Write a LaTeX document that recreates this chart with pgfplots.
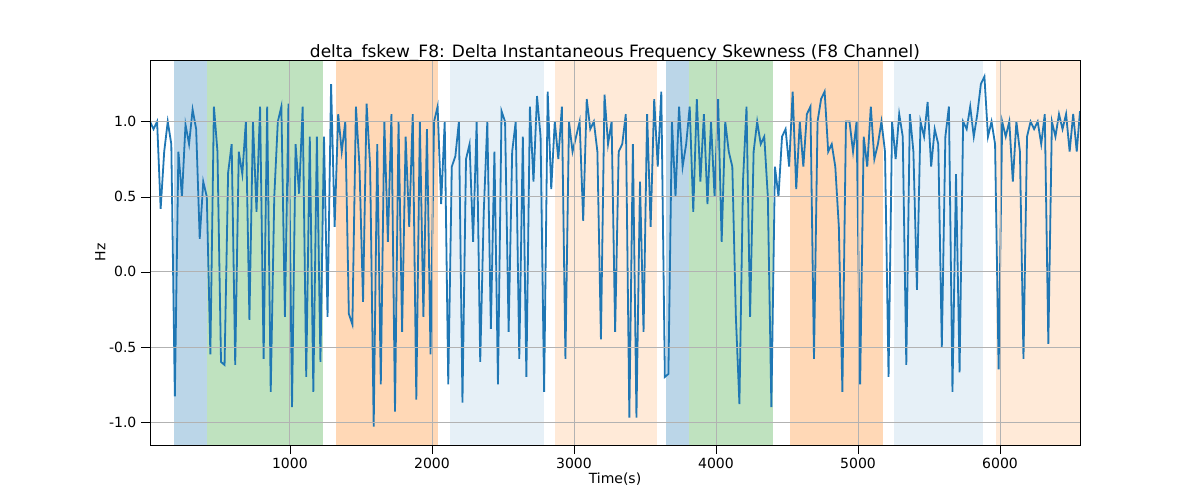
\documentclass[border=0pt]{standalone}
\usepackage{pgfplots}
\pgfplotsset{compat=1.18}
\usepackage{fontspec}
\setmainfont{DejaVu Sans}
\definecolor{tb}{HTML}{1F77B4}
\definecolor{tg}{HTML}{2CA02C}
\definecolor{to}{HTML}{FF7F0E}
\newcommand{\reg}[3]{\addplot[fill=#1,fill opacity=#2,draw=none,forget plot] coordinates {#3};}
\begin{document}
\fontsize{7pt}{8pt}\selectfont
\begin{tikzpicture}
\begin{axis}[at={(0,0)},anchor=south west,scale only axis,width=465pt,height=192.5pt,
xmin=15,xmax=6563,ymin=-1.153,ymax=1.41,
xtick={1000,2000,3000,4000,5000,6000},ytick={-1,-0.5,0,0.5,1},
xticklabel style={/pgf/number format/.cd,1000 sep={}},
yticklabel style={/pgf/number format/.cd,fixed,fixed zerofill,precision=1},
/pgf/number format/assume math mode=true,
grid=major,grid style={gray!60,line width=0.4pt},axis on top,
tick style={black},tick align=outside,xtick pos=left,ytick pos=left,
xlabel={Time(s)},ylabel={Hz},
title={delta\_fskew\_F8: Delta Instantaneous Frequency Skewness (F8 Channel)},
title style={font=\fontsize{8.5pt}{10pt}\selectfont,yshift=-9.5pt},
xlabel style={yshift=3pt},ylabel style={yshift=-3pt}]
\reg{tb}{0.3}{(183,-2)(183,2)(415,2)(415,-2)}
\reg{tg}{0.3}{(415,-2)(415,2)(1232,2)(1232,-2)}
\reg{to}{0.3}{(1324,-2)(1324,2)(2042,2)(2042,-2)}
\reg{tb}{0.11}{(2127,-2)(2127,2)(2789,2)(2789,-2)}
\reg{to}{0.16}{(2866,-2)(2866,2)(3585,2)(3585,-2)}
\reg{tb}{0.3}{(3648,-2)(3648,2)(3810,2)(3810,-2)}
\reg{tg}{0.3}{(3810,-2)(3810,2)(4401,2)(4401,-2)}
\reg{to}{0.3}{(4521,-2)(4521,2)(5176,2)(5176,-2)}
\reg{tb}{0.11}{(5254,-2)(5254,2)(5880,2)(5880,-2)}
\reg{to}{0.16}{(5972,-2)(5972,2)(6563,2)(6563,-2)}
\addplot[tb,line width=0.9pt] coordinates {
(15,1.0)(40,0.95)(65,1.0)(90,0.42)(115,0.8)(140,1.0)(165,0.85)(190,-0.83)(215,0.8)(240,0.5)(265,0.98)(290,0.85)(315,1.08)(340,0.95)(365,0.22)(390,0.6)(415,0.5)(440,-0.55)(465,1.1)(490,0.8)(515,-0.6)(540,-0.62)(565,0.66)(590,0.85)(615,-0.62)(640,0.8)(665,0.65)(690,1.0)(715,-0.32)(740,1.0)(765,0.4)(790,1.1)(815,-0.58)(840,1.1)(865,-0.8)(890,0.5)(915,1.0)(940,1.1)(965,-0.3)(990,1.12)
(1015,-0.9)(1040,0.85)(1065,0.52)(1090,1.1)(1115,-0.7)(1140,0.9)(1165,-0.8)(1190,0.9)(1215,-0.6)(1240,0.9)(1265,-0.3)(1290,1.25)(1315,0.3)(1340,1.05)(1365,0.8)(1390,1.0)(1415,-0.28)(1440,-0.35)(1465,1.1)(1490,0.7)(1515,-0.2)(1540,1.12)(1565,0.7)(1590,-1.03)(1615,0.85)(1640,-0.75)(1665,1.0)(1690,0.2)(1715,1.05)(1740,-0.93)(1765,1.0)(1790,-0.4)(1815,0.9)(1840,0.3)(1865,1.05)(1890,-0.85)(1915,1.0)(1940,-0.3)(1965,0.95)(1990,-0.55)
(2015,1.0)(2040,1.1)(2065,0.45)(2090,1.0)(2115,-0.75)(2140,0.7)(2165,0.77)(2190,1.0)(2215,-0.87)(2240,0.75)(2265,0.85)(2290,0.2)(2315,1.0)(2340,-0.6)(2365,0.4)(2390,1.0)(2415,-0.38)(2440,0.8)(2465,-0.75)(2490,1.07)(2515,1.0)(2540,-0.4)(2565,0.8)(2590,1.0)(2615,-0.58)(2640,0.9)(2665,-0.7)(2690,1.1)(2715,0.6)(2740,1.17)(2765,0.9)(2790,-0.8)(2815,1.2)(2840,0.55)(2865,1.0)(2890,0.75)(2915,1.1)(2940,-0.58)(2965,1.0)(2990,0.8)
(3015,0.9)(3040,1.0)(3065,0.34)(3090,1.15)(3115,0.95)(3140,1.0)(3165,0.8)(3190,-0.45)(3215,1.18)(3240,0.85)(3265,1.0)(3290,-0.4)(3315,0.8)(3340,0.85)(3365,1.05)(3390,-0.97)(3415,0.85)(3440,-0.97)(3465,0.6)(3490,-0.4)(3515,1.05)(3540,0.3)(3565,1.15)(3590,0.7)(3615,1.2)(3640,-0.7)(3665,-0.68)(3690,1.0)(3715,0.5)(3740,1.1)(3765,0.7)(3790,0.85)(3815,1.1)(3840,0.4)(3865,1.15)(3890,0.6)(3915,1.05)(3940,0.45)(3965,1.0)(3990,0.5)
(4015,1.15)(4040,0.2)(4065,1.0)(4090,0.8)(4115,0.7)(4140,-0.3)(4165,-0.88)(4190,0.6)(4215,1.1)(4240,-0.3)(4265,0.8)(4290,1.0)(4315,0.85)(4340,0.9)(4365,0.5)(4390,-0.9)(4415,0.7)(4440,0.5)(4465,0.9)(4490,0.95)(4515,0.7)(4540,1.2)(4565,0.55)(4590,1.0)(4615,0.7)(4640,1.05)(4665,1.1)(4690,-0.58)(4715,1.0)(4740,1.15)(4765,1.2)(4790,0.8)(4815,0.85)(4840,0.7)(4865,0.3)(4890,-0.8)(4915,1.0)(4940,1.0)(4965,0.8)(4990,1.0)
(5015,-0.75)(5040,0.9)(5065,0.7)(5090,1.1)(5115,0.75)(5140,0.85)(5165,1.0)(5190,0.8)(5215,-0.7)(5240,1.0)(5265,0.75)(5290,1.05)(5315,0.9)(5340,-0.62)(5365,1.05)(5390,0.8)(5415,-0.12)(5440,1.0)(5465,0.9)(5490,1.13)(5515,0.7)(5540,0.95)(5565,0.85)(5590,-0.5)(5615,0.9)(5640,1.1)(5665,-0.8)(5690,0.65)(5715,-0.67)(5740,1.0)(5765,0.95)(5790,1.1)(5815,0.9)(5840,1.05)(5865,1.25)(5890,1.3)(5915,0.9)(5940,1.0)(5965,0.85)(5990,-0.65)
(6015,1.0)(6040,0.9)(6065,1.0)(6090,0.6)(6115,1.0)(6140,0.8)(6165,-0.58)(6190,0.9)(6215,1.0)(6240,0.95)(6265,1.0)(6290,0.85)(6315,1.05)(6340,-0.48)(6365,1.0)(6390,0.9)(6415,1.05)(6440,0.95)(6465,1.05)(6490,0.8)(6515,1.05)(6540,0.8)(6563,1.07)
};
\end{axis}
\path[use as bounding box] (-75pt,-27.5pt) rectangle (525pt,222.5pt);
\end{tikzpicture}
\end{document}
